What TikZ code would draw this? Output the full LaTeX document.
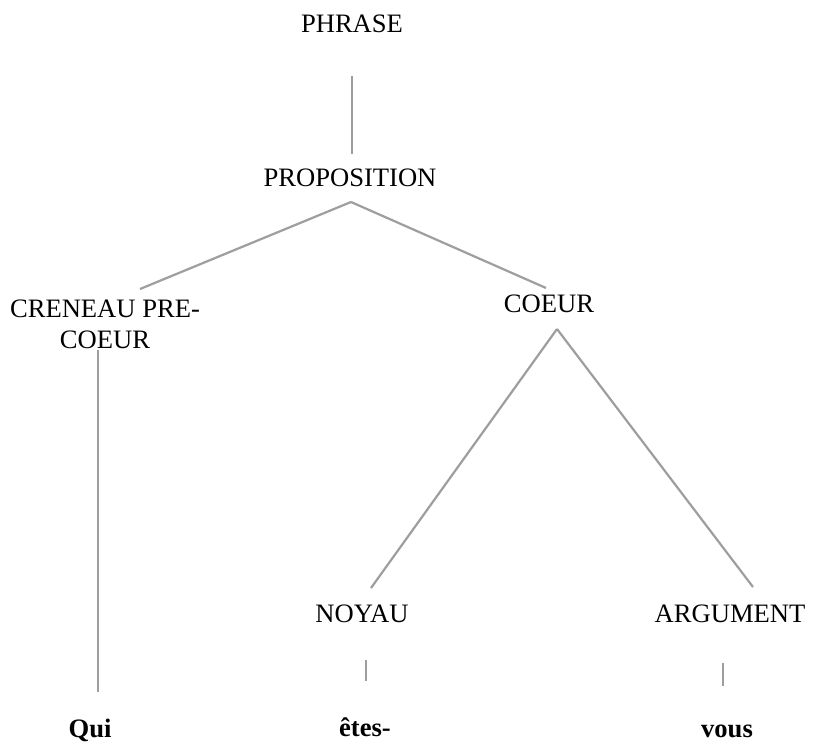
\documentclass[tikz,border=0pt]{standalone}
\usepackage{fontspec}
\setmainfont{Liberation Serif}
\tikzset{
  lbl/.style={anchor=base, inner sep=0pt, font=\fontsize{26.6}{31}\selectfont, align=center},
  word/.style={lbl, font=\fontsize{26.6}{31}\selectfont\bfseries},
  conn/.style={draw=black!38, line width=2.2pt}
}
\begin{document}
\begin{tikzpicture}[x=1pt,y=-1pt]
\useasboundingbox[fill=white] (0,0) rectangle (838,742);
% labels
\node[lbl] (phrase) at (352,32) {PHRASE};
\node[lbl] (prop) at (350,186) {PROPOSITION};
\node[lbl] (cren) at (105,348) {CRENEAU PRE-\\COEUR};
\node[lbl] (coeur) at (549,312) {COEUR};
\node[lbl] (noyau) at (362,622) {NOYAU};
\node[lbl] (arg) at (730,622) {ARGUMENT};
\node[word] (qui) at (90,737) {Qui};
\node[word] (etes) at (365,736) {êtes-};
\node[word] (vous) at (727,737) {vous};
% connector end points
\coordinate (phraseB) at (352,76);
\coordinate (propT) at (352,154);
\coordinate (propB) at (351,202);
\coordinate (crenT) at (140,289);
\coordinate (coeurT) at (546,288);
\coordinate (coeurB) at (557,329);
\coordinate (noyauT) at (371,588);
\coordinate (argT) at (753,587);
\coordinate (crenB) at (98,350);
\coordinate (quiT) at (98,692);
\coordinate (noyauB) at (366,660);
\coordinate (etesT) at (366,681);
\coordinate (argB) at (723,663);
\coordinate (vousT) at (723,686);
% connectors
\draw[conn] (phraseB) -- (propT);
\draw[conn] (propB) -- (crenT);
\draw[conn] (propB) -- (coeurT);
\draw[conn] (coeurB) -- (noyauT);
\draw[conn] (coeurB) -- (argT);
\draw[conn] (crenB) -- (quiT);
\draw[conn] (noyauB) -- (etesT);
\draw[conn] (argB) -- (vousT);
\end{tikzpicture}
\end{document}
